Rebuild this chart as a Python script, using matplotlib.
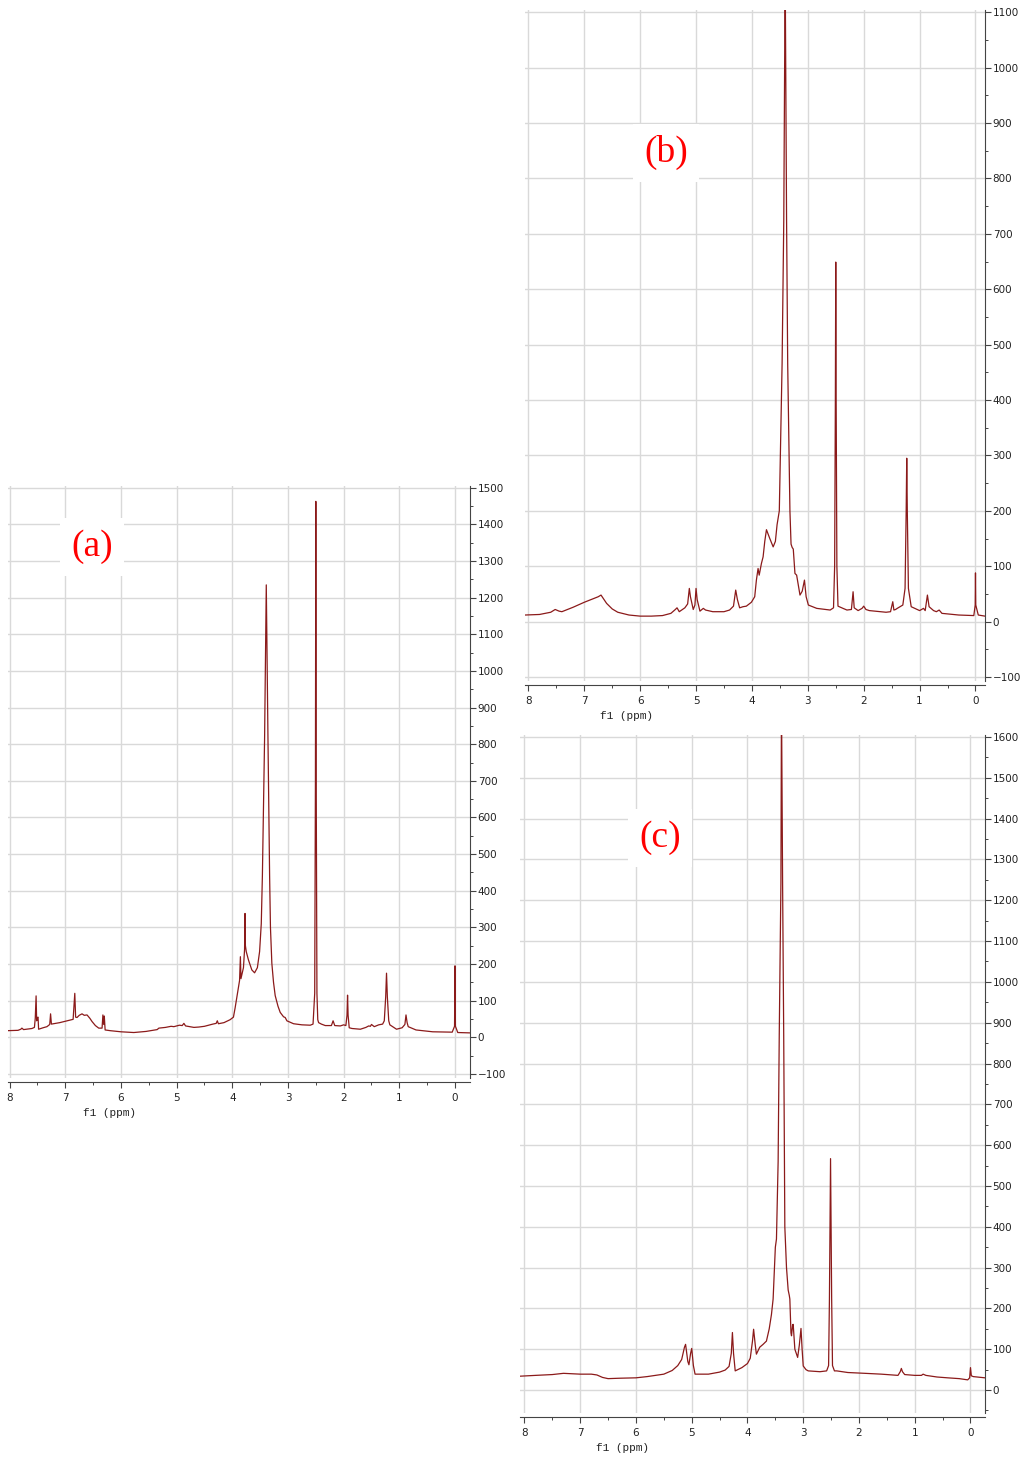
import matplotlib.pyplot as plt
from matplotlib.ticker import MultipleLocator

# spectrum (a): chemical shift (ppm) and intensity
ppm_a = [8.05, 7.85, 7.80, 7.78, 7.75, 7.60, 7.555, 7.54, 7.525, 7.515,
         7.50, 7.49, 7.48, 7.40, 7.33, 7.28, 7.265, 7.25, 7.10, 6.97,
         6.86, 6.83, 6.815, 6.79, 6.75, 6.70, 6.66, 6.61, 6.56, 6.52,
         6.46, 6.40, 6.34, 6.325, 6.31, 6.30, 6.285, 6.19, 6.00, 5.77,
         5.55, 5.35, 5.32, 5.20, 5.10, 5.05, 4.95, 4.90, 4.87, 4.84,
         4.69, 4.60, 4.50, 4.35, 4.29, 4.27, 4.25, 4.15, 4.04, 3.98,
         3.95, 3.91, 3.87, 3.855, 3.845, 3.83, 3.80, 3.78, 3.772, 3.765,
         3.75, 3.71, 3.65, 3.60, 3.55, 3.51, 3.48, 3.46, 3.42, 3.39,
         3.36, 3.33, 3.315, 3.29, 3.26, 3.23, 3.18, 3.14, 3.08, 3.05,
         3.02, 2.90, 2.75, 2.60, 2.55, 2.52, 2.507, 2.50, 2.493, 2.48,
         2.465, 2.45, 2.40, 2.33, 2.22, 2.19, 2.16, 2.06, 2.00, 1.96,
         1.94, 1.93, 1.92, 1.90, 1.85, 1.70, 1.60, 1.55, 1.52, 1.50,
         1.45, 1.40, 1.37, 1.30, 1.27, 1.245, 1.23, 1.215, 1.19, 1.17,
         1.05, 0.95, 0.90, 0.88, 0.86, 0.84, 0.70, 0.40, 0.05, 0.008,
         0.0, -0.008, -0.05, -0.27]
int_a = [18, 19, 22, 25, 21, 24, 27, 52, 113, 45,
         54, 55, 22, 26, 29, 35, 64, 36, 40, 45,
         49, 120, 55, 54, 60, 64, 60, 61, 52, 43,
         32, 25, 25, 61, 35, 58, 20, 18, 15, 13,
         16, 21, 25, 27, 30, 29, 33, 32, 38, 31,
         27, 28, 30, 36, 38, 45, 37, 40, 48, 55,
         80, 118, 155, 220, 160, 170, 190, 240, 338, 250,
         234, 211, 184, 176, 190, 234, 310, 440, 820, 1235,
         820, 440, 300, 202, 150, 114, 85, 68, 56, 54,
         45, 37, 34, 33, 36, 120, 700, 1463, 700, 120,
         48, 40, 36, 32, 32, 45, 32, 31, 34, 32,
         60, 115, 60, 26, 24, 22, 27, 31, 30, 35,
         29, 32, 34, 36, 45, 110, 175, 110, 45, 34,
         22, 26, 35, 61, 40, 29, 20, 15, 14, 30,
         195, 30, 13, 12]

# spectrum (b)
ppm_b = [8.06, 7.80, 7.60, 7.52, 7.45, 7.40, 7.20, 7.00, 6.95, 6.85,
         6.75, 6.70, 6.66, 6.60, 6.50, 6.40, 6.20, 6.00, 5.80, 5.60,
         5.45, 5.37, 5.34, 5.30, 5.20, 5.15, 5.12, 5.10, 5.05, 5.02,
         5.00, 4.98, 4.93, 4.87, 4.83, 4.70, 4.50, 4.40, 4.33, 4.29,
         4.26, 4.22, 4.16, 4.10, 4.01, 3.95, 3.92, 3.89, 3.87, 3.83,
         3.80, 3.77, 3.74, 3.68, 3.62, 3.58, 3.55, 3.51, 3.46, 3.43,
         3.405, 3.38, 3.36, 3.32, 3.30, 3.28, 3.26, 3.23, 3.20, 3.14,
         3.10, 3.06, 3.03, 2.99, 2.84, 2.60, 2.54, 2.52, 2.507, 2.50,
         2.493, 2.48, 2.46, 2.37, 2.30, 2.22, 2.19, 2.17, 2.10, 2.03,
         2.00, 1.96, 1.90, 1.60, 1.52, 1.48, 1.46, 1.43, 1.40, 1.30,
         1.26, 1.24, 1.23, 1.22, 1.20, 1.15, 1.00, 0.93, 0.90, 0.86,
         0.83, 0.75, 0.70, 0.65, 0.60, 0.30, 0.03, 0.005, 0.0, -0.005,
         -0.05, -0.17]
int_b = [12, 13, 17, 22, 19, 18, 26, 35, 37, 41,
         45, 48, 42, 33, 23, 17, 12, 10, 10, 11,
         15, 22, 25, 18, 25, 32, 60, 45, 22, 30,
         60, 40, 19, 24, 21, 18, 18, 21, 28, 57,
         40, 25, 27, 28, 35, 45, 75, 96, 84, 105,
         117, 145, 166, 150, 135, 145, 175, 200, 466, 725,
         1180, 725, 466, 200, 140, 134, 131, 87, 84, 48,
         55, 75, 45, 30, 24, 21, 25, 100, 400, 649,
         400, 100, 28, 24, 21, 22, 54, 25, 20, 24,
         28, 22, 20, 17, 18, 36, 21, 22, 24, 30,
         60, 200, 295, 200, 60, 27, 20, 24, 20, 48,
         27, 20, 18, 21, 15, 12, 11, 30, 88, 30,
         12, 10]

# spectrum (c)
ppm_c = [8.08, 7.80, 7.50, 7.30, 7.00, 6.80, 6.70, 6.60, 6.50, 6.30,
         6.00, 5.80, 5.50, 5.35, 5.25, 5.18, 5.13, 5.11, 5.07, 5.05,
         5.02, 5.00, 4.97, 4.94, 4.70, 4.50, 4.40, 4.33, 4.29, 4.27,
         4.25, 4.22, 4.10, 4.00, 3.95, 3.91, 3.89, 3.86, 3.84, 3.78,
         3.72, 3.66, 3.61, 3.57, 3.54, 3.50, 3.48, 3.45, 3.43, 3.40,
         3.39, 3.37, 3.35, 3.33, 3.30, 3.27, 3.25, 3.24, 3.22, 3.21,
         3.19, 3.18, 3.15, 3.10, 3.07, 3.04, 3.02, 3.00, 2.95, 2.91,
         2.70, 2.58, 2.545, 2.53, 2.51, 2.49, 2.475, 2.44, 2.40, 2.20,
         1.89, 1.60, 1.30, 1.26, 1.24, 1.22, 1.18, 1.00, 0.88, 0.85,
         0.80, 0.60, 0.41, 0.20, 0.05, 0.015, 0.0, -0.015, -0.05, -0.26]
int_c = [34, 36, 38, 41, 39, 39, 37, 31, 28, 29,
         30, 33, 39, 48, 60, 75, 105, 112, 70, 62,
         90, 102, 60, 39, 39, 44, 49, 58, 90, 141,
         90, 47, 55, 65, 78, 120, 149, 110, 88, 105,
         112, 120, 150, 185, 223, 350, 370, 560, 870, 1243,
         1700, 1243, 869, 400, 300, 245, 232, 223, 140, 133,
         160, 161, 100, 80, 110, 151, 100, 59, 50, 47,
         45, 47, 60, 223, 567, 223, 60, 47, 47, 43,
         41, 39, 36, 45, 53, 45, 38, 36, 36, 39,
         36, 32, 30, 28, 25, 30, 55, 35, 33, 30]

line_color = '#8b1a1a'
axis_color = '#444444'


def draw_panel(ax, ppm, inten, xlim, ylim, label, label_xy):
    ax.plot(ppm, inten, color=line_color, lw=0.9)
    ax.set_xlim(*xlim)
    ax.set_ylim(*ylim)
    ax.xaxis.set_major_locator(MultipleLocator(1))
    ax.xaxis.set_minor_locator(MultipleLocator(0.5))
    ax.yaxis.set_major_locator(MultipleLocator(100))
    ax.yaxis.set_minor_locator(MultipleLocator(50))
    ax.yaxis.tick_right()
    ax.grid(True, which='major', color='#d9d9d9', lw=1.0)
    ax.set_axisbelow(True)
    ax.spines['top'].set_visible(False)
    ax.spines['left'].set_visible(False)
    ax.spines['bottom'].set_position(('outward', 3))
    ax.spines['bottom'].set_color(axis_color)
    ax.spines['right'].set_color(axis_color)
    ax.tick_params(axis='both', which='major', length=4, width=0.8,
                   color=axis_color, labelsize=7.5, labelcolor='#222222')
    ax.tick_params(axis='both', which='minor', length=2.5, width=0.7,
                   color=axis_color)
    ax.tick_params(axis='x', pad=4)
    ax.tick_params(axis='y', pad=1.5)
    ax.annotate('f1 (ppm)', xy=(0.22, 0), xycoords='axes fraction',
                xytext=(0, -35), textcoords='offset pixels',
                ha='center', va='center', fontsize=8,
                family='Liberation Mono', color='#222222')
    ax.text(label_xy[0], label_xy[1], label, transform=ax.transAxes,
            color='red', fontsize=27, family='Liberation Serif',
            ha='center', va='center', zorder=5,
            bbox=dict(facecolor='white', edgecolor='none',
                      boxstyle='square,pad=0.3'))


fig = plt.figure(figsize=(10.24, 14.66), dpi=100)
ax_a = fig.add_axes([0.0078, 0.2647, 0.4512, 0.4038])
ax_b = fig.add_axes([0.5127, 0.5355, 0.4492, 0.4577])
ax_c = fig.add_axes([0.5078, 0.0362, 0.4541, 0.4625])

draw_panel(ax_a, ppm_a, int_a, (8.03, -0.27), (-111, 1505), '(a)', (0.182, 0.897))
draw_panel(ax_b, ppm_b, int_b, (8.06, -0.17), (-107, 1104), '(b)', (0.3065, 0.787))
draw_panel(ax_c, ppm_c, int_c, (8.08, -0.26), (-56, 1605), '(c)', (0.301, 0.848))

fig.savefig('out.png', dpi=100, facecolor='white')
